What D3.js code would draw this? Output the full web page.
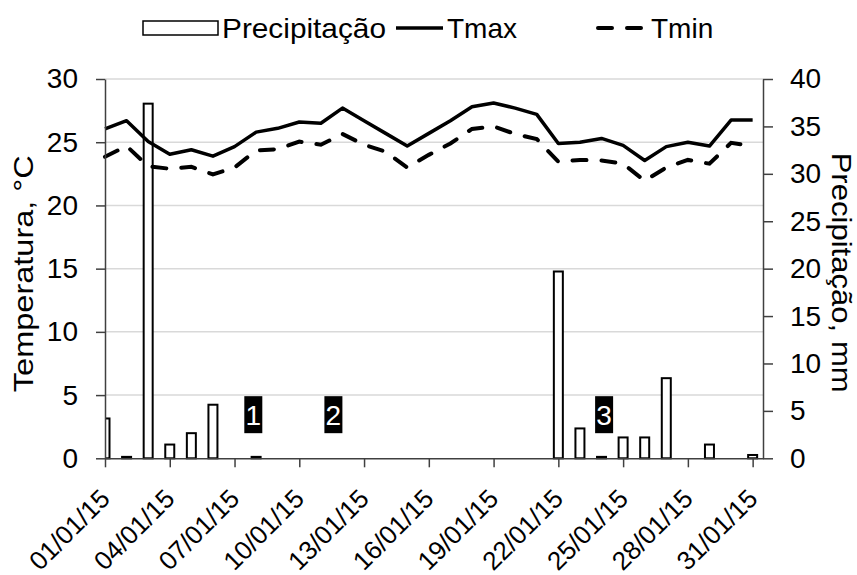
<!DOCTYPE html>
<html>
<head>
<meta charset="utf-8">
<script src="https://cdn.jsdelivr.net/npm/d3@7"></script>
<style>
  body { margin: 0; background: #fff; }
  text { font-family: "Liberation Sans", Arial, sans-serif; fill: #000; }
</style>
</head>
<body>
<div id="chart-container"></div>
<script>
// dados (janeiro 2015)
var dias = ["01/01/15","02/01/15","03/01/15","04/01/15","05/01/15","06/01/15","07/01/15","08/01/15",
  "09/01/15","10/01/15","11/01/15","12/01/15","13/01/15","14/01/15","15/01/15","16/01/15",
  "17/01/15","18/01/15","19/01/15","20/01/15","21/01/15","22/01/15","23/01/15","24/01/15",
  "25/01/15","26/01/15","27/01/15","28/01/15","29/01/15","30/01/15","31/01/15"];
var tmax = [26.05, 26.7, 25.05, 24.05, 24.4, 23.9, 24.65, 25.8, 26.1, 26.6, 26.5, 27.7, 26.7, 25.7, 24.7, 25.7,
  26.7, 27.8, 28.1, 27.7, 27.2, 24.9, 25.0, 25.3, 24.75, 23.55, 24.65, 25.0, 24.7, 26.75, 26.75];
var tmin = [23.85, 24.7, 23.1, 22.9, 23.05, 22.45, 23.0, 24.35, 24.45, 25.05, 24.8, 25.65, 24.8, 24.25, 23.0, 24.0,
  24.9, 26.05, 26.25, 25.65, 25.25, 23.45, 23.6, 23.55, 23.3, 21.95, 23.0, 23.6, 23.3, 24.95, 24.7];
var precip = [4.2, 0.15, 37.4, 1.45, 2.65, 5.65, 0, 0.15, 0, 0, 0, 0, 0, 0, 0, 0,
  0, 0, 0, 0, 0, 19.7, 3.15, 0.15, 2.2, 2.2, 8.45, 0, 1.45, 0, 0.35];
var tempTicks = [0, 5, 10, 15, 20, 25, 30];
var precTicks = [0, 5, 10, 15, 20, 25, 30, 35, 40];
var diaTicks = [1, 4, 7, 10, 13, 16, 19, 22, 25, 28, 31];
// marcadores numerados (dia fracionario, temperatura)
var marcadores = ["1", "2", "3"];
var marcadorDia = [7.87, 11.58, 24.12];
var marcadorY = [3.45, 3.45, 3.45];

var width = 857, height = 575;
var plotLeft = 105, plotRight = 763, plotTop = 79, plotBottom = 458.3;

var svg = d3.select("#chart-container").append("svg")
    .attr("width", width)
    .attr("height", height);

var x = d3.scaleLinear().domain([1, 31.48]).range([plotLeft, plotRight]);
var yT = d3.scaleLinear().domain([0, 30]).range([plotBottom, plotTop]);
var yP = d3.scaleLinear().domain([0, 40]).range([plotBottom, plotTop]);

var data = dias.map(function(d, i) {
  return {dia: i + 1, tmax: tmax[i], tmin: tmin[i], prec: precip[i]};
});

// gridlines
svg.append("g").selectAll("line")
    .data(tempTicks.filter(function(d) { return d > 0; }))
  .enter().append("line")
    .attr("x1", plotLeft).attr("x2", plotRight)
    .attr("y1", function(d) { return yT(d); })
    .attr("y2", function(d) { return yT(d); })
    .attr("stroke", "#d9d9d9")
    .attr("stroke-width", 1.5);

// barras de precipitacao
svg.append("clipPath").attr("id", "plotclip")
  .append("rect")
    .attr("x", plotLeft).attr("y", 0)
    .attr("width", plotRight - plotLeft).attr("height", plotBottom + 2);

var barW = 9;
svg.append("g").attr("clip-path", "url(#plotclip)")
  .selectAll("rect")
    .data(data.filter(function(d) { return d.prec > 0; }))
  .enter().append("rect")
    .attr("x", function(d) { return x(d.dia) - barW / 2; })
    .attr("y", function(d) { return yP(d.prec); })
    .attr("width", barW)
    .attr("height", function(d) { return plotBottom - yP(d.prec); })
    .attr("fill", "#fff")
    .attr("stroke", "#000")
    .attr("stroke-width", 2);

// linhas
var lineMax = d3.line()
    .x(function(d) { return x(d.dia); })
    .y(function(d) { return yT(d.tmax); });
var lineMin = d3.line()
    .x(function(d) { return x(d.dia); })
    .y(function(d) { return yT(d.tmin); });

svg.append("path")
    .datum(data)
    .attr("d", lineMax)
    .attr("fill", "none")
    .attr("stroke", "#000")
    .attr("stroke-width", 3.5)
    .attr("stroke-linejoin", "round");

svg.append("path")
    .datum(data)
    .attr("d", lineMin)
    .attr("fill", "none")
    .attr("stroke", "#000")
    .attr("stroke-width", 4)
    .attr("stroke-linecap", "round")
    .attr("stroke-dasharray", "14,15");

// eixos
var axisColor = "#404040";
var gx = svg.append("g")
    .attr("transform", "translate(0," + plotBottom + ")")
    .call(d3.axisBottom(x).tickValues(diaTicks)
      .tickFormat(function(d) { return dias[d - 1]; })
      .tickSize(9).tickSizeOuter(0));

var gl = svg.append("g")
    .attr("transform", "translate(" + plotLeft + ",0)")
    .call(d3.axisLeft(yT).tickValues(tempTicks).tickSize(9).tickPadding(18).tickSizeOuter(0));

var gr = svg.append("g")
    .attr("transform", "translate(" + plotRight + ",0)")
    .call(d3.axisRight(yP).tickValues(precTicks).tickSize(10).tickPadding(17).tickSizeOuter(0));

[gx, gl, gr].forEach(function(g) {
  g.selectAll("path, line").attr("stroke", axisColor).attr("stroke-width", 1.5);
  g.selectAll("text").attr("font-size", 28).attr("fill", "#000")
    .style("font-family", "'Liberation Sans', Arial, sans-serif");
});

// rotulos de data inclinados
gx.selectAll("text")
    .attr("x", 0).attr("y", 0).attr("dy", 0)
    .attr("font-size", 26)
    .attr("text-anchor", "end")
    .attr("transform", "translate(6,42) rotate(-45)");

// titulos dos eixos
svg.append("text")
    .attr("transform", "translate(23," + ((plotTop + plotBottom) / 2 + 5) + ") rotate(-90)")
    .attr("text-anchor", "middle")
    .attr("dy", "0.35em")
    .attr("font-size", 28)
    .attr("textLength", 237)
    .attr("lengthAdjust", "spacingAndGlyphs")
    .text("Temperatura, °C");

svg.append("text")
    .attr("transform", "translate(842," + ((plotTop + plotBottom) / 2 + 4) + ") rotate(90)")
    .attr("text-anchor", "middle")
    .attr("dy", "0.35em")
    .attr("font-size", 28)
    .attr("textLength", 240)
    .attr("lengthAdjust", "spacingAndGlyphs")
    .text("Precipitação, mm");

// marcadores
var mk = svg.append("g").selectAll("g")
    .data(marcadores)
  .enter().append("g")
    .attr("transform", function(d, i) {
      return "translate(" + x(marcadorDia[i]) + "," + yT(marcadorY[i]) + ")";
    });
mk.append("rect")
    .attr("x", -9).attr("y", -18.5)
    .attr("width", 18).attr("height", 37)
    .attr("fill", "#000");
mk.append("text")
    .attr("text-anchor", "middle")
    .attr("dy", "0.36em")
    .attr("font-size", 28)
    .style("fill", "#fff")
    .text(function(d) { return d; });

// legenda
var leg = svg.append("g");
leg.append("rect")
    .attr("x", 143).attr("y", 21)
    .attr("width", 75).attr("height", 14)
    .attr("fill", "#fff").attr("stroke", "#000").attr("stroke-width", 1.5);
leg.append("text").attr("x", 222).attr("y", 28).attr("dy", "0.35em")
    .attr("font-size", 28)
    .attr("textLength", 164).attr("lengthAdjust", "spacingAndGlyphs")
    .text("Precipitação");
leg.append("line")
    .attr("x1", 396).attr("x2", 443).attr("y1", 28).attr("y2", 28)
    .attr("stroke", "#000").attr("stroke-width", 3.5);
leg.append("text").attr("x", 447).attr("y", 28).attr("dy", "0.35em")
    .attr("font-size", 28).text("Tmax");
leg.append("line")
    .attr("x1", 598).attr("x2", 645).attr("y1", 28).attr("y2", 28)
    .attr("stroke", "#000").attr("stroke-width", 4)
    .attr("stroke-linecap", "round")
    .attr("stroke-dasharray", "14,15");
leg.append("text").attr("x", 651).attr("y", 28).attr("dy", "0.35em")
    .attr("font-size", 28).text("Tmin");
</script>
</body>
</html>
